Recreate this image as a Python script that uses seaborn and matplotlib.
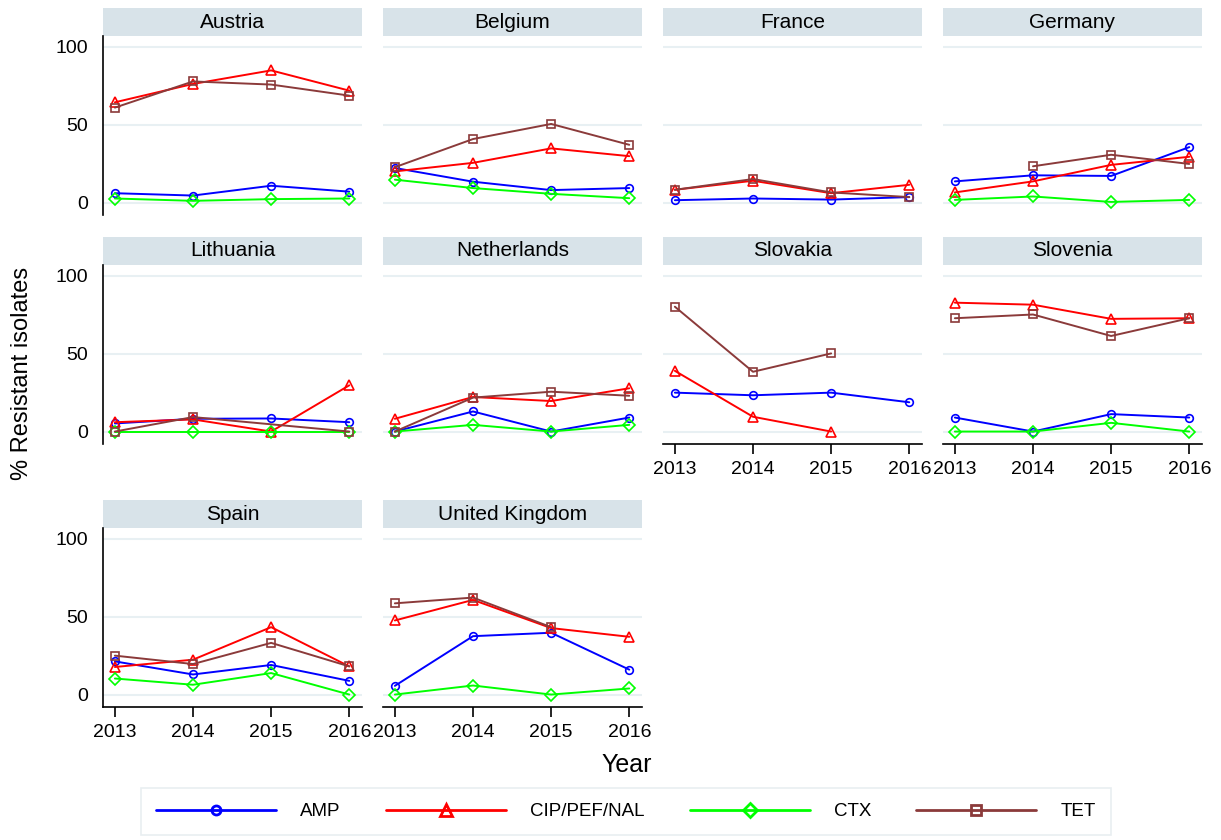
import numpy as np
import pandas as pd
import seaborn as sns
import matplotlib.pyplot as plt
from matplotlib.lines import Line2D
from matplotlib.patches import Rectangle

nan = np.nan
years = [2013, 2014, 2015, 2016]
countries = ['Austria', 'Belgium', 'France', 'Germany', 'Lithuania', 'Netherlands',
             'Slovakia', 'Slovenia', 'Spain', 'United Kingdom']
drugs = ['AMP', 'CIP/PEF/NAL', 'CTX', 'TET']

# % resistant isolates per country, 2013-2016
amp = {
    'Austria': [6, 4.5, 10.8, 7],
    'Belgium': [22.2, 13.4, 8, 9.3],
    'France': [1.5, 2.6, 1.9, 3.5],
    'Germany': [13.6, 17.5, 17.1, 35.6],
    'Lithuania': [5.2, 8.2, 8.4, 6],
    'Netherlands': [0, 12.9, 0, 9],
    'Slovakia': [25, 23.3, 25, 18.8],
    'Slovenia': [9, 0, 11.2, 9],
    'Spain': [21.3, 12.9, 19, 8.8],
    'United Kingdom': [5.6, 37.5, 39.7, 16],
}
cip = {
    'Austria': [64.4, 76.2, 84.9, 71.9],
    'Belgium': [20, 25.5, 34.8, 29.8],
    'France': [8.2, 14, 6, 11.4],
    'Germany': [6.5, 13.6, 24.2, 29.4],
    'Lithuania': [6, 7.8, 0, 29.7],
    'Netherlands': [8.2, 22.2, 19.6, 27.8],
    'Slovakia': [39, 9.5, 0, nan],
    'Slovenia': [82.8, 81.5, 72.4, 72.8],
    'Spain': [17.7, 22.4, 43.3, 18.1],
    'United Kingdom': [47.6, 60.8, 42.7, 37.1],
}
ctx = {
    'Austria': [2.6, 1.1, 2.2, 2.6],
    'Belgium': [14.7, 9.3, 5.6, 2.8],
    'France': [nan, nan, nan, nan],
    'Germany': [1.7, 3.9, 0.4, 1.7],
    'Lithuania': [0, 0, 0, 0],
    'Netherlands': [0, 4.3, 0, 4.3],
    'Slovakia': [nan, nan, nan, nan],
    'Slovenia': [0, 0, 5.6, 0],
    'Spain': [10.3, 6.3, 13.8, 0],
    'United Kingdom': [0, 5.8, 0, 3.9],
}
tet = {
    'Austria': [61, 77.8, 75.8, 68.7],
    'Belgium': [22.7, 40.8, 50.5, 37.1],
    'France': [8.2, 15.1, 6.5, 3.5],
    'Germany': [nan, 23.3, 30.7, 24.8],
    'Lithuania': [0, 9.3, nan, 0],
    'Netherlands': [0, 21.8, 25.6, 23],
    'Slovakia': [80.2, 38.4, 50.2, nan],
    'Slovenia': [72.8, 75.2, 61.4, 72.8],
    'Spain': [25, 19.6, 33.2, 18.1],
    'United Kingdom': [58.6, 62.3, 43.3, nan],
}

rows = []
for drug, table in zip(drugs, [amp, cip, ctx, tet]):
    for c in countries:
        for y, v in zip(years, table[c]):
            rows.append((c, drug, y, v))
df = pd.DataFrame(rows, columns=['country', 'drug', 'year', 'value']).dropna()

colors = {'AMP': '#0000ff', 'CIP/PEF/NAL': '#ff0000', 'CTX': '#00ff00', 'TET': '#8b3a3a'}
markers = {'AMP': 'o', 'CIP/PEF/NAL': '^', 'CTX': 'D', 'TET': 's'}
msize = {'AMP': 5.5, 'CIP/PEF/NAL': 7, 'CTX': 6, 'TET': 6}

sns.set_style('white')
plt.rcParams['font.family'] = ['Liberation Sans', 'DejaVu Sans']
plt.rcParams['text.color'] = 'black'
plt.rcParams['xtick.color'] = 'black'
plt.rcParams['ytick.color'] = 'black'
plt.rcParams['axes.labelcolor'] = 'black'

W, H = 1221, 840
fig = plt.figure(figsize=(W / 100, H / 100), dpi=100)

col_left = [103, 383, 663, 943]
col_w = 259
row_top = [36, 265, 528]
ax_h = 179
strip_h = 28
grid_col = '#e8f0f3'
strip_col = '#d8e3e9'

for i, c in enumerate(countries):
    r, k = divmod(i, 4)
    left = col_left[k] / W
    bottom = 1 - (row_top[r] + ax_h) / H
    ax = fig.add_axes([left, bottom, col_w / W, ax_h / H])

    sub = df[df['country'] == c]
    sns.lineplot(data=sub, x='year', y='value', hue='drug', style='drug',
                 hue_order=drugs, style_order=drugs, palette=colors,
                 markers=markers, dashes=False, estimator=None, legend=False,
                 linewidth=1.4, ax=ax)
    present = [d for d in drugs if d in set(sub['drug'])]
    for line, d in zip(ax.lines, present):
        line.set_markeredgecolor(line.get_color())
        line.set_markerfacecolor('none')
        line.set_markeredgewidth(1.2)
        line.set_markersize(msize[d])

    ax.set_xlim(2012.848, 2016.163)
    ax.set_ylim(-8, 107)
    ax.set_yticks([0, 50, 100])
    ax.set_xticks(years)
    ax.grid(axis='y', color=grid_col, lw=1.5)
    ax.grid(axis='x', visible=False)
    ax.set_axisbelow(True)
    ax.set_xlabel('')
    ax.set_ylabel('')
    for s in ax.spines.values():
        s.set_visible(False)

    if k == 0:
        ax.spines['left'].set_visible(True)
        ax.spines['left'].set_color('black')
        ax.spines['left'].set_linewidth(1.2)
        ax.tick_params(axis='y', length=7, width=1.2, color='black',
                       labelsize=14, pad=4)
    else:
        ax.tick_params(axis='y', length=0, labelleft=False)

    show_x = (r == 2) or (r == 1 and k >= 2)
    if show_x:
        ax.spines['bottom'].set_visible(True)
        ax.spines['bottom'].set_color('black')
        ax.spines['bottom'].set_linewidth(1.2)
        ax.set_xticklabels([str(y) for y in years])
        ax.tick_params(axis='x', length=7, width=1.2, color='black',
                       labelsize=14, pad=5, bottom=True)
    else:
        ax.tick_params(axis='x', length=0, labelbottom=False)

    ax.add_patch(Rectangle((0, 1), 1, strip_h / ax_h, transform=ax.transAxes,
                           facecolor=strip_col, edgecolor='none', clip_on=False))
    ax.text(0.5, 1 + strip_h / ax_h / 2, c, transform=ax.transAxes,
            ha='center', va='center', fontsize=15)

fig.text(22 / W, 1 - 373 / H, '% Resistant isolates', rotation=90,
         ha='center', va='center', fontsize=17)
fig.text(652 / W, 1 - 765 / H, 'Year', ha='right', va='center', fontsize=18)

handles = [Line2D([], [], color=colors[d], marker=markers[d], markersize=msize[d] + 1,
                  markerfacecolor='none', markeredgewidth=2, lw=2) for d in drugs]
leg = fig.legend(handles, drugs, loc='upper center', bbox_to_anchor=(626 / W, 1 - 788 / H),
                 ncol=4, fontsize=13.5, handlelength=6.4, columnspacing=2.4,
                 handletextpad=1.3, borderpad=0.8, borderaxespad=0,
                 frameon=True, fancybox=False)
leg.get_frame().set_edgecolor('#e3eaee')
leg.get_frame().set_linewidth(1.2)

fig.savefig('out.png', dpi=100, facecolor='white')
